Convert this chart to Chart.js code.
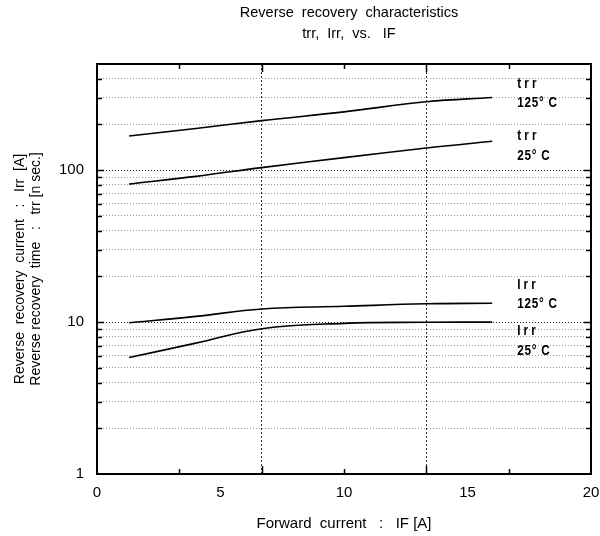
<!DOCTYPE html>
<html>
<head>
<meta charset="utf-8">
<script src="https://cdn.jsdelivr.net/npm/chart.js@4/dist/chart.umd.min.js"></script>
<style>
  html, body { margin: 0; padding: 0; background: #fff; }
  #wrap { width: 600px; height: 536px; }
</style>
</head>
<body>
<div id="wrap"><canvas id="recoveryChart" width="600" height="536"></canvas></div>
<script>
// Forward current IF [A] where each curve was read
const forwardCurrent = [1.3, 4, 6.67, 10, 13.33, 16];

// Series
const trr125 = [168, 188, 212, 242, 282, 301];   // trr [ns], 125°C
const trr25  = [81, 91, 104, 121, 140, 155];     // trr [ns], 25°C
const irr125 = [9.9, 10.9, 12.2, 12.7, 13.2, 13.3]; // Irr [A], 125°C
const irr25  = [5.84, 7.27, 9.05, 9.8, 9.97, 10.0]; // Irr [A], 25°C

// Axis ticks
const xTickLabels = [0, 5, 10, 15, 20];
const xMinorTicks = [3.333, 6.667, 10, 13.333, 16.667];
const xGridValues = [6.667, 13.333];
const yTickLabels = [1, 10, 100];
const yGridValues = [2, 3, 4, 5, 6, 7, 8, 9, 20, 30, 40, 50, 60, 70, 80, 90, 200, 300, 400];
const yMin = 1, yMax = 500;

const curveNames = [['trr', '125° C'], ['trr', '25° C'], ['Irr', '125° C'], ['Irr', '25° C']];
const curveSeries = [trr125, trr25, irr125, irr25];
// pixel offsets of the two label lines from each curve end
const labelOffsets = [[-14, 5], [-5, 15], [-18, 1], [9, 29]];

const FONT = '"Liberation Sans", Arial, sans-serif';

function toPoints(series) {
    return series.map((v, i) => ({ x: forwardCurrent[i], y: v }));
}

const isNear = (list, v) => list.some(g => Math.abs(g - v) < 1e-6 * Math.max(1, v));

// Frame, inward tick marks, titles and curve labels
const decorations = {
    id: 'decorations',
    afterDatasetsDraw(chart) {
        const { ctx, chartArea: a, scales } = chart;
        const x = scales.x, y = scales.y;
        ctx.save();
        ctx.strokeStyle = '#000';

        // inward ticks on left/right
        ctx.lineWidth = 1.5;
        yGridValues.concat([10, 100]).forEach(v => {
            const py = Math.round(y.getPixelForValue(v)) + 0.5;
            const len = (v === 10 || v === 100) ? 7 : 5;
            ctx.beginPath();
            ctx.moveTo(a.left, py); ctx.lineTo(a.left + len, py);
            ctx.moveTo(a.right, py); ctx.lineTo(a.right - len, py);
            ctx.stroke();
        });
        // inward ticks on top/bottom
        xMinorTicks.forEach(v => {
            const px = Math.round(x.getPixelForValue(v)) + 0.5;
            const len = isNear(xGridValues, v) ? 8 : 5;
            ctx.beginPath();
            ctx.moveTo(px, a.bottom); ctx.lineTo(px, a.bottom - len);
            ctx.moveTo(px, a.top); ctx.lineTo(px, a.top + len);
            ctx.stroke();
        });

        // frame
        ctx.lineWidth = 2;
        ctx.strokeRect(a.left, a.top, a.right - a.left, a.bottom - a.top);

        // chart title
        ctx.fillStyle = '#000';
        ctx.font = '14.5px ' + FONT;
        ctx.textAlign = 'center';
        ctx.textBaseline = 'middle';
        const cx = (a.left + a.right) / 2 + 5;
        ctx.fillText('Reverse  recovery  characteristics', cx, 13);
        ctx.fillText('trr,  Irr,  vs.   IF', cx, 34);

        // curve labels
        ctx.font = 'bold 15px ' + FONT;
        ctx.textAlign = 'left';
        curveSeries.forEach((s, i) => {
            const last = s.length - 1;
            const px = x.getPixelForValue(forwardCurrent[last]) + 25;
            const py = y.getPixelForValue(s[last]);
            curveNames[i].forEach((t, j) => {
                ctx.save();
                ctx.translate(px, py + labelOffsets[i][j]);
                ctx.scale(0.78, 1);
                ctx.letterSpacing = j === 0 ? '4px' : '1px';
                ctx.fillText(t, 0, 0);
                ctx.restore();
            });
        });
        ctx.restore();
    }
};

const lineStyle = {
    borderColor: '#000',
    borderWidth: 1.6,
    pointRadius: 0,
    tension: 0.4,
    fill: false
};

new Chart(document.getElementById('recoveryChart'), {
    type: 'line',
    data: {
        datasets: curveSeries.map((s, i) => Object.assign({
            label: curveNames[i].join(' '),
            data: toPoints(s)
        }, lineStyle))
    },
    options: {
        responsive: false,
        animation: false,
        layout: { padding: { top: 64, right: 9, left: 0, bottom: 0 } },
        plugins: {
            legend: { display: false },
            tooltip: { enabled: false }
        },
        scales: {
            x: {
                type: 'linear',
                min: 0,
                max: 20,
                afterBuildTicks: scale => {
                    const vals = xTickLabels.concat(xMinorTicks.filter(v => !isNear(xTickLabels, v)));
                    scale.ticks = vals.sort((p, q) => p - q).map(v => ({ value: v }));
                },
                afterFit: scale => {
                    scale.height = 62;
                    scale.paddingRight = 0;
                    scale.paddingLeft = 0;
                },
                ticks: {
                    autoSkip: false,
                    maxRotation: 0,
                    padding: 10,
                    color: '#000',
                    font: { family: FONT, size: 15 },
                    callback: v => isNear(xTickLabels, v) ? String(Math.round(v)) : ''
                },
                grid: {
                    drawTicks: false,
                    lineWidth: 1,
                    color: c => (c.tick && isNear(xGridValues, c.tick.value)) ? '#333' : 'rgba(0,0,0,0)'
                },
                border: { display: false, dash: [2, 2] },
                title: {
                    display: true,
                    text: 'Forward  current   :   IF [A]',
                    color: '#000',
                    font: { family: FONT, size: 15 },
                    padding: { top: 0, bottom: 3 }
                }
            },
            y: {
                type: 'logarithmic',
                min: yMin,
                max: yMax,
                afterBuildTicks: scale => {
                    const vals = yTickLabels.concat(yGridValues, [yMax]);
                    scale.ticks = vals.sort((p, q) => p - q).map(v => ({ value: v }));
                },
                afterFit: scale => { scale.width = 97; },
                ticks: {
                    autoSkip: false,
                    padding: 13,
                    color: '#000',
                    font: { family: FONT, size: 15 },
                    callback: v => yTickLabels.includes(v) ? String(v) : ''
                },
                grid: {
                    drawTicks: false,
                    lineWidth: 1,
                    color: c => {
                        const v = c.tick ? c.tick.value : 0;
                        if (v === 10 || v === 100) return '#222';
                        if (v === yMin || v === yMax) return 'rgba(0,0,0,0)';
                        return '#999';
                    }
                },
                border: { display: false, dash: [1, 2] },
                title: {
                    display: true,
                    text: ['Reverse  recovery  current   :   Irr  [A]', 'Reverse recovery  time   :   trr [n sec.]'],
                    color: '#000',
                    font: { family: FONT, size: 14, lineHeight: 1.15 },
                    padding: { top: 12, bottom: 0 }
                }
            }
        }
    },
    plugins: [decorations]
});
</script>
</body>
</html>
